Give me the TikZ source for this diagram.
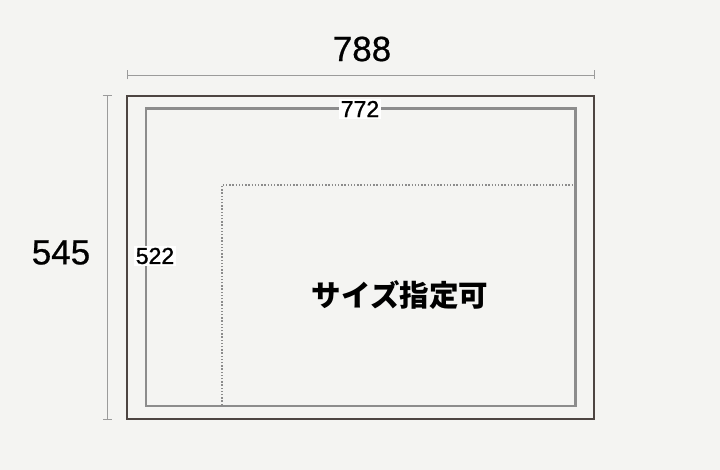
\documentclass[tikz,border=0pt]{standalone}
\usepackage{fontspec}
\setmainfont{Liberation Sans}
\newfontfamily\numfont[FakeBold=0.6]{Liberation Sans}
\newfontfamily\smallnumfont[FakeBold=1.2]{Liberation Sans}
\newfontfamily\jpfont{Noto Sans CJK JP}
\usetikzlibrary{positioning, arrows.meta}
\definecolor{bgcol}{RGB}{244,244,242}
\definecolor{framecol}{RGB}{77,69,66}
\definecolor{innercol}{RGB}{140,140,140}
\definecolor{dimcol}{RGB}{155,155,155}

\begin{document}
\begin{tikzpicture}[x=1pt,y=-1pt,
  dimline/.style={dimcol, line width=0.8pt, {Bar[width=9pt]}-{Bar[width=9pt]}},
  bignum/.style={font=\numfont\fontsize{35}{35}\selectfont},
  smallnum/.style={fill=white, inner sep=1.5pt, font=\smallnumfont\fontsize{23}{23}\selectfont}]
\fill[bgcol] (0,0) rectangle (720,470);
\useasboundingbox (0,0) rectangle (720,470);
\coordinate (outerA) at (127,96);
\coordinate (outerB) at (594,419);
\coordinate (innerA) at (146,108.5);
\coordinate (innerB) at (575.5,406);
\draw[framecol, line width=2pt] (outerA) rectangle (outerB);
\draw[innercol, line width=2.5pt] (innerA) rectangle (innerB);
\coordinate (dotA) at (222,405);
\coordinate (dotB) at (222,185);
\coordinate (dotC) at (575,185);
\draw[innercol, dash pattern={on 1.4pt off 1.8pt}, line width=1.4pt] (dotA) -- (dotB) -- (dotC);
\coordinate (widthA) at (127,75);
\coordinate (widthB) at (595,75);
\draw[dimline] (widthA) -- (widthB);
\coordinate (heightA) at (107,95);
\coordinate (heightB) at (107,420);
\draw[dimline] (heightA) -- (heightB);
\node[bignum] (width) at (362,49) {788};
\node[bignum] (height) at (61,252.5) {545};
\node[smallnum] (innerwidth) at (360,109) {772};
\node[smallnum] (innerheight) at (155,256) {522};
\node[font=\jpfont\bfseries\fontsize{29.5}{29.5}\selectfont] (free) at (400,295) {サイズ指定可};
\end{tikzpicture}
\end{document}
